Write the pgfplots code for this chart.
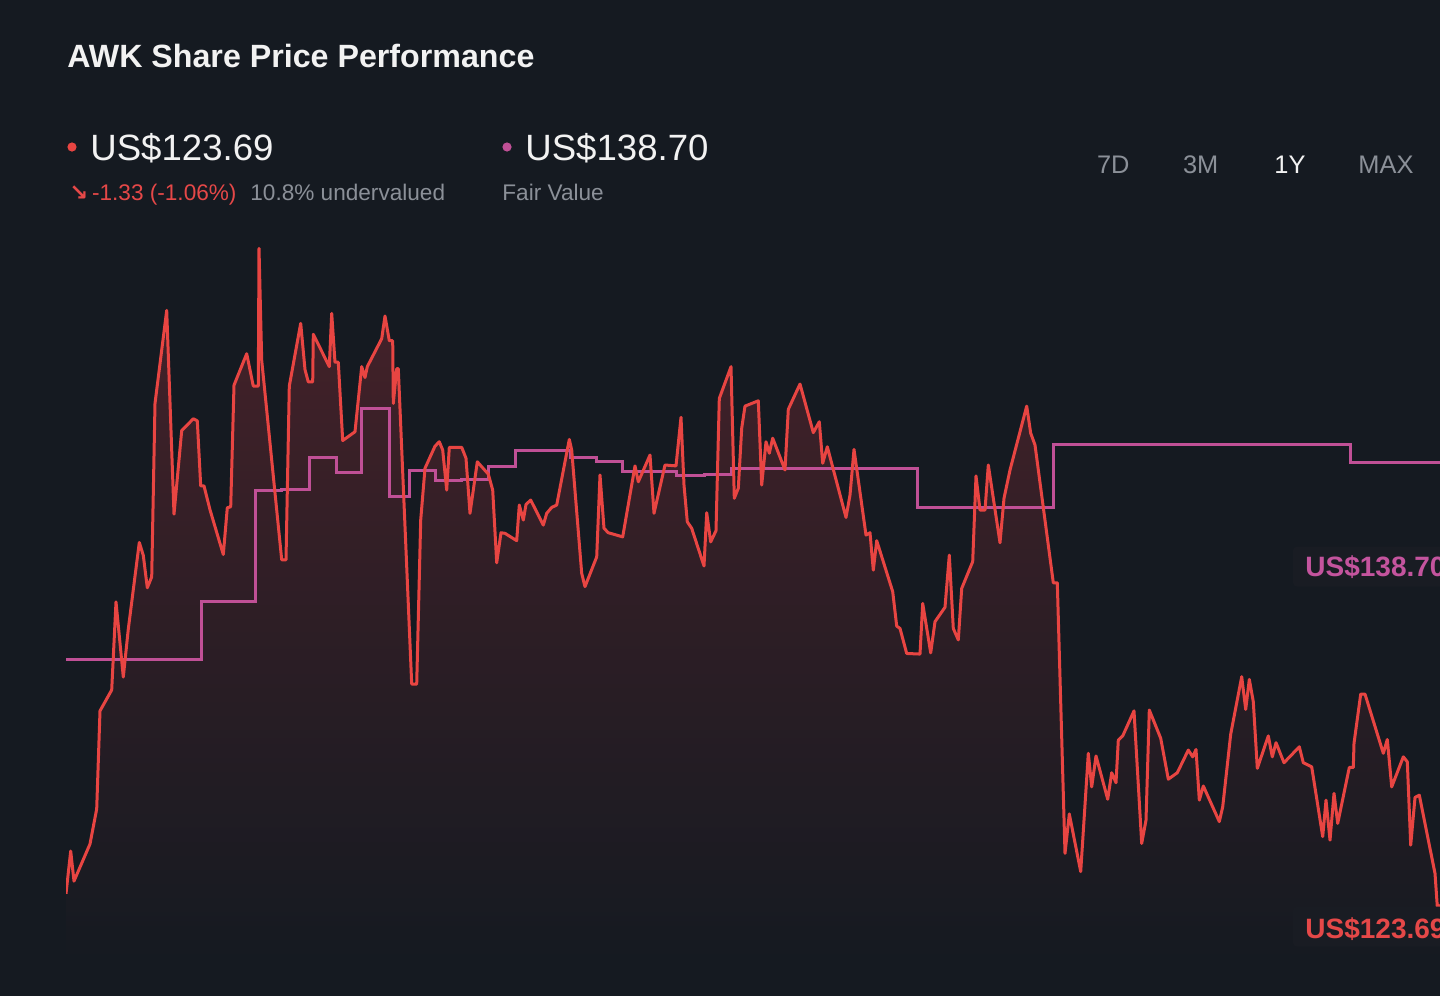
\documentclass[border=0pt]{standalone}
\usepackage{pgfplots}
\pgfplotsset{compat=1.18}
\usepackage{pgfplotstable}
\usepackage{fontspec}
\setmainfont{Liberation Sans}
\newfontfamily\dejavu{DejaVu Sans}
\definecolor{bg}{RGB}{21,26,33}
\definecolor{pricered}{RGB}{232,69,66}
\definecolor{textred}{RGB}{229,72,72}
\definecolor{fvcol}{RGB}{192,80,150}
\definecolor{fvtext}{RGB}{196,84,158}
\definecolor{greytext}{RGB}{139,144,152}
\definecolor{whitetext}{RGB}{242,242,242}
\definecolor{fillred}{RGB}{72,34,42}
\definecolor{boxbg}{RGB}{25,28,35}

\pgfplotstableread{
x y
66 124.07
70.7 125.52
74 124.50
90 125.76
96.7 126.95
100 130.28
111.7 130.99
116 133.98
123.3 131.43
128.3 133.06
139.3 136.00
143.3 135.56
147.3 134.46
151.7 134.83
155 140.72
166.7 143.88
174 136.96
181.7 139.80
193.3 140.20
197.3 140.13
200.7 137.92
204 137.92
210 137.11
223.3 135.59
227.3 137.18
230.7 137.21
234 141.34
246.7 142.41
253.3 141.31
258.3 141.31
259 145.99
261.7 142.19
281.7 135.41
286 135.41
289.3 141.31
300.7 143.44
305 141.87
308.3 141.45
312.7 141.45
313.3 143.07
329.3 141.97
331.7 143.78
335 142.12
338.3 142.12
342.7 139.46
355 139.76
361.7 141.97
365 141.60
367.3 141.97
381.7 142.92
385 143.69
389.3 142.85
392.7 142.85
393.3 140.72
396.7 141.90
398.3 141.90
411.7 131.19
416.7 131.19
420.7 136.76
425 138.52
435 139.27
439.3 139.42
442.7 139.14
446.7 137.78
449.3 139.23
461.7 139.23
466 138.86
470 136.99
477.3 138.74
488.3 138.32
492.7 137.78
496.7 135.31
501 136.33
505 136.31
516.7 136.06
519.3 137.27
523.3 136.76
526 137.29
530.7 137.44
543.3 136.59
546.7 136.99
551.7 137.19
556.7 137.27
569.3 139.50
571.7 139.14
581.7 134.95
585 134.50
596.7 135.51
600 138.29
604 136.48
608.3 136.33
622.7 136.19
635 138.60
638.3 138.06
650 138.97
654 136.99
665 138.63
676 138.60
681 140.25
684 137.95
687.3 136.70
691.7 136.48
704 135.20
706.7 137.01
710.7 136.02
716 136.40
719.3 140.89
731 141.97
734.3 137.50
738.3 137.84
741.7 139.88
745 140.63
758.3 140.81
761.7 137.95
766 139.42
769.3 139.03
772.7 139.54
785 138.46
788.3 140.52
793.3 140.89
800 141.38
813.3 139.73
819.3 140.10
822.7 138.69
827.3 139.25
846 136.85
850 137.61
854 139.16
866 136.25
870 136.33
873.3 135.06
876.7 136.06
892.7 134.33
896.7 133.16
900 133.08
906.7 132.23
920 132.21
922.7 133.93
930.7 132.25
935 133.31
945 133.80
949.3 135.57
953.3 133.08
958.3 132.69
961.7 134.44
972.7 135.35
976 138.26
980 137.10
985 137.10
988.3 138.63
1000 135.99
1004 137.50
1010 138.46
1026.7 140.63
1030.7 139.71
1035 139.31
1053.3 134.63
1057.3 134.63
1065 125.44
1069.3 126.78
1080.7 124.82
1088.3 128.84
1091.7 127.70
1096 128.75
1107.7 127.28
1111.7 128.18
1116 127.84
1118.3 129.29
1122.7 129.43
1134 130.28
1141.7 125.78
1146 126.57
1149.3 130.31
1160.7 129.35
1168.3 127.96
1177.3 128.18
1188.3 128.95
1192.7 128.72
1196 128.97
1199.3 127.25
1203.3 127.73
1219.3 126.52
1222.7 127.02
1230.7 129.49
1241.7 131.44
1245.7 130.33
1249.3 131.35
1253.3 130.59
1257.3 128.33
1268.3 129.43
1272.3 128.72
1276 129.20
1284 128.52
1299.3 129.06
1303.3 128.52
1311.7 128.38
1322.7 126.01
1326 127.25
1330 125.89
1334 127.48
1337.7 126.46
1349.3 128.36
1353.3 128.36
1354 129.18
1360.7 130.85
1365 130.85
1383.3 128.84
1387.3 129.31
1391.7 127.70
1403.3 128.72
1407.3 128.55
1410.7 125.72
1415 127.34
1419.3 127.42
1435 124.76
1437.3 123.63
1440 123.69
}\price

\pgfplotstableread{
x y
66 132.02
201.7 133.98
255 137.77
281.7 137.81
309.3 138.87
336 138.36
361.7 140.54
389.3 137.55
409.3 138.44
435 138.09
461.7 138.14
488.3 138.57
515 139.11
570 138.89
596.7 138.74
622.7 138.40
676.7 138.29
704 138.32
731.7 138.52
917.7 137.19
1053.3 139.34
1350 138.70
1440 138.70
}\fv

\begin{document}
\begin{tikzpicture}
\useasboundingbox (0,0) rectangle (720pt,-498pt);
\fill[bg] (0,0) rectangle (720pt,-498pt);

\begin{axis}[
  at={(33pt,-480pt)}, anchor=south west,
  width=687pt, height=370pt, scale only axis,
  xmin=66, xmax=1440, ymin=121.82, ymax=146.95,
  axis lines=none, xtick=\empty, ytick=\empty, clip=true,
]
\addplot[draw=none, top color=fillred, bottom color=bg] table {\price} -- (axis cs:1440,121.82) -- (axis cs:66,121.82) -- cycle;
\addplot[const plot, fvcol, line width=1.5pt] table {\fv};
\addplot[pricered, line width=1.5pt, line join=round] table {\price};
\end{axis}

% header
\node[anchor=base west, inner sep=0, text=whitetext, font=\fontsize{16.1pt}{18pt}\selectfont\bfseries] at (33.5pt,-33.5pt) {AWK Share Price Performance};

\fill[pricered] (36pt,-73.5pt) circle (2.3pt);
\node[anchor=base west, inner sep=0, text=whitetext, font=\fontsize{18.3pt}{22pt}\selectfont] at (45pt,-80pt) {US\$123.69};
\fill[fvcol] (253.5pt,-73.5pt) circle (2.3pt);
\node[anchor=base west, inner sep=0, text=whitetext, font=\fontsize{18.3pt}{22pt}\selectfont] at (262.5pt,-80pt) {US\$138.70};

\node[anchor=base west, inner sep=0, text=textred, font=\fontsize{11.3pt}{14pt}\selectfont] at (34.5pt,-100pt) {{\dejavu\bfseries ↘}\,-1.33 (-1.06\%)};
\node[anchor=base west, inner sep=0, text=greytext, font=\fontsize{11.3pt}{14pt}\selectfont] at (125pt,-100pt) {10.8\% undervalued};
\node[anchor=base west, inner sep=0, text=greytext, font=\fontsize{11.3pt}{14pt}\selectfont] at (251pt,-100pt) {Fair Value};

\node[anchor=base west, inner sep=0, text=greytext, font=\fontsize{12.7pt}{15pt}\selectfont] at (548.3pt,-86.5pt) {7D};
\node[anchor=base west, inner sep=0, text=greytext, font=\fontsize{12.7pt}{15pt}\selectfont] at (591.3pt,-86.5pt) {3M};
\node[anchor=base west, inner sep=0, text=whitetext, font=\fontsize{12.7pt}{15pt}\selectfont] at (637pt,-86.5pt) {1Y};
\node[anchor=base west, inner sep=0, text=greytext, font=\fontsize{12.7pt}{15pt}\selectfont] at (679pt,-86.5pt) {MAX};

% right labels (cut by the right edge, as in the reference)
\fill[boxbg, rounded corners=2pt] (646.5pt,-273.3pt) rectangle (730pt,-293.3pt);
\node[anchor=base west, inner sep=0, text=fvtext, font=\fontsize{14pt}{16pt}\selectfont\bfseries] at (652.5pt,-288.3pt) {US\$138.70};
\fill[boxbg, rounded corners=2pt] (646.5pt,-453.3pt) rectangle (730pt,-473.3pt);
\node[anchor=base west, inner sep=0, text=textred, font=\fontsize{14pt}{16pt}\selectfont\bfseries] at (652.5pt,-469pt) {US\$123.69};
\end{tikzpicture}
\end{document}
